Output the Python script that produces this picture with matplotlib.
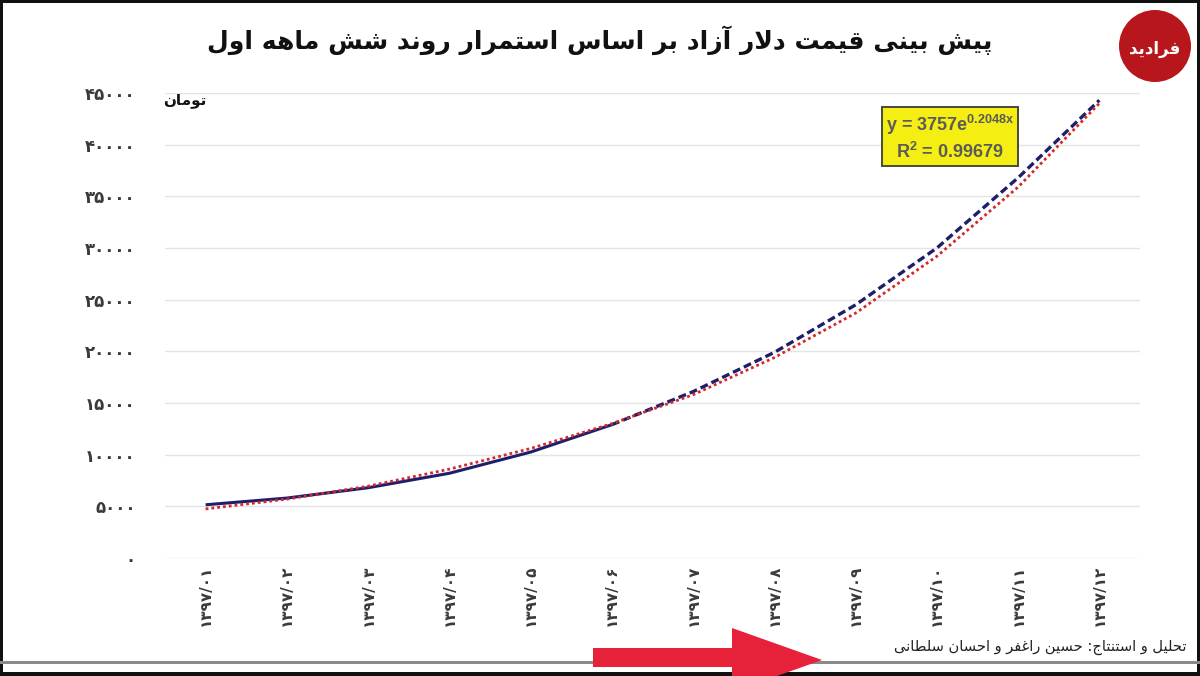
"""Dollar free-market price forecast chart (Persian labels, hand-shaped Arabic script)."""
import matplotlib
matplotlib.use("Agg")
import matplotlib.pyplot as plt
import matplotlib.patches as mpatches

W, H = 1200, 676

plt.rcParams.update({
    "font.family": ["DejaVu Sans"],
    "font.sans-serif": ["Liberation Sans", "DejaVu Sans"],
    "mathtext.fontset": "custom",
    "mathtext.rm": "Liberation Sans:bold",
    "mathtext.bf": "Liberation Sans:bold",
    "mathtext.it": "Liberation Sans:bold",
    "axes.spines.top": False,
    "axes.spines.right": False,
    "axes.spines.left": False,
    "axes.spines.bottom": False,
})

# --- data ------------------------------------------------------------------
month_labels = ["۱۳۹۷/۰۱", "۱۳۹۷/۰۲", "۱۳۹۷/۰۳", "۱۳۹۷/۰۴", "۱۳۹۷/۰۵", "۱۳۹۷/۰۶",
                "۱۳۹۷/۰۷", "۱۳۹۷/۰۸", "۱۳۹۷/۰۹", "۱۳۹۷/۱۰", "۱۳۹۷/۱۱", "۱۳۹۷/۱۲"]
actual_months = [1, 2, 3, 4, 5, 6]
actual = [5150, 5800, 6800, 8200, 10250, 12900]
forecast_months = [6, 7, 8, 9, 10, 11, 12]
forecast = [12900, 16100, 19900, 24500, 30000, 36800, 44300]
trend = [4750, 5700, 6950, 8600, 10600, 13000, 15800, 19400, 23700, 29200, 35900, 44000]
y_ticks = [0, 5000, 10000, 15000, 20000, 25000, 30000, 35000, 40000, 45000]
y_tick_labels = ["۰", "۵۰۰۰", "۱۰۰۰۰", "۱۵۰۰۰", "۲۰۰۰۰", "۲۵۰۰۰", "۳۰۰۰۰",
                 "۳۵۰۰۰", "۴۰۰۰۰", "۴۵۰۰۰"]

TITLE = "پیش بینی قیمت دلار آزاد بر اساس استمرار روند شش ماهه اول"
UNIT = "تومان"
CREDIT = "تحلیل و استنتاج: حسین راغفر و احسان سلطانی"
LOGO = "فرادید"

# --- minimal Arabic-script shaper (matplotlib has no RTL shaping) ----------
DUAL = {  # isolated, final, initial, medial
    "ب": "\uFE8F\uFE90\uFE91\uFE92", "پ": "\uFB56\uFB57\uFB58\uFB59",
    "ت": "\uFE95\uFE96\uFE97\uFE98", "ج": "\uFE9D\uFE9E\uFE9F\uFEA0",
    "ح": "\uFEA1\uFEA2\uFEA3\uFEA4", "س": "\uFEB1\uFEB2\uFEB3\uFEB4",
    "ش": "\uFEB5\uFEB6\uFEB7\uFEB8", "ط": "\uFEC1\uFEC2\uFEC3\uFEC4",
    "غ": "\uFECD\uFECE\uFECF\uFED0", "ف": "\uFED1\uFED2\uFED3\uFED4",
    "ق": "\uFED5\uFED6\uFED7\uFED8", "ل": "\uFEDD\uFEDE\uFEDF\uFEE0",
    "م": "\uFEE1\uFEE2\uFEE3\uFEE4", "ن": "\uFEE5\uFEE6\uFEE7\uFEE8",
    "ه": "\uFEE9\uFEEA\uFEEB\uFEEC", "ی": "\uFBFC\uFBFD\uFBFE\uFBFF",
}
RIGHT = {  # isolated, final
    "ا": "\uFE8D\uFE8E", "آ": "\uFE81\uFE82", "د": "\uFEA9\uFEAA",
    "ر": "\uFEAD\uFEAE", "ز": "\uFEAF\uFEB0", "و": "\uFEED\uFEEE",
}
LAM_ALEF = {"ا": "\uFEFB\uFEFC", "آ": "\uFEF5\uFEF6"}


def shape(text):
    chars = list(text)
    out = []
    i = 0
    while i < len(chars):
        c = chars[i]
        prev = chars[i - 1] if i > 0 else None
        nxt = chars[i + 1] if i + 1 < len(chars) else None
        joined_prev = prev in DUAL and (c in DUAL or c in RIGHT)
        if c == "ل" and nxt in LAM_ALEF:
            out.append(LAM_ALEF[nxt][1 if joined_prev else 0])
            i += 2
            continue
        if c in DUAL:
            joined_next = nxt in DUAL or nxt in RIGHT
            idx = {(False, False): 0, (True, False): 1,
                   (False, True): 2, (True, True): 3}[(joined_prev, joined_next)]
            out.append(DUAL[c][idx])
        elif c in RIGHT:
            out.append(RIGHT[c][1 if joined_prev else 0])
        else:
            out.append(c)
        i += 1
    return "".join(reversed(out))


def fx(x):
    return x / W


def fy(y):
    return 1 - y / H


# --- figure -----------------------------------------------------------------
fig = plt.figure(figsize=(W / 100, H / 100), dpi=100)
fig.patch.set_facecolor("white")
ax = fig.add_axes([fx(165), fy(558), fx(1140) - fx(165), fy(93) - fy(558)])

ax.set_xlim(0.5, 12.5)
ax.set_ylim(0, 45000)
ax.set_yticks(y_ticks)
ax.set_yticklabels(y_tick_labels, fontsize=12, fontweight="bold", color="#3a3a3a")
ax.set_xticks(range(1, 13))
ax.set_xticklabels(month_labels, rotation=90, fontsize=11, fontweight="bold",
                   color="#3a3a3a", va="top", ha="center")
ax.tick_params(axis="y", length=0, pad=21)
ax.tick_params(axis="x", length=0, pad=5)
ax.yaxis.grid(True, color="#e4e4e4", linewidth=1)
ax.set_axisbelow(True)

navy = "#1d1f6a"
red = "#d3272c"
ax.plot(actual_months, actual, color=navy, lw=2.2, solid_capstyle="butt", zorder=3)
ax.plot(forecast_months, forecast, color=navy, lw=2.4, dashes=(2.4, 1.2), zorder=3)
ax.plot(range(1, 13), trend, color=red, lw=2.0, linestyle=(0, (1, 1.1)), zorder=4)

# trend equation box
ax.text(0.805, 0.905, "y = 3757e$^{0.2048x}$\nR$^{2}$ = 0.99679",
        transform=ax.transAxes, ha="center", va="center", family="Liberation Sans",
        fontsize=13, fontweight="bold", color="#5b5b5b", linespacing=1.3,
        bbox=dict(boxstyle="square,pad=0.22", facecolor="#f4ee12", edgecolor="#4a4a3a",
                  linewidth=1.4))

# unit label
fig.text(fx(163), fy(101), shape(UNIT), ha="left", va="center", fontsize=11,
         fontweight="bold", color="#111")

# title
fig.text(fx(600), fy(40), shape(TITLE), ha="center", va="center", fontsize=18,
         fontweight="bold", color="#111")

# credit line
fig.text(fx(1187), fy(647), shape(CREDIT), ha="right", va="center", fontsize=10.5,
         color="#222")

# logo
fig.patches.append(mpatches.Ellipse((fx(1155), fy(46)), 72 / W, 72 / H,
                                    transform=fig.transFigure, facecolor="#b7171c",
                                    edgecolor="none"))
fig.text(fx(1155), fy(49), shape(LOGO), ha="center", va="center", fontsize=12,
         fontweight="bold", color="white")

# frame: black top/left/right edges, grey rule and black band at the bottom
fig.patches.append(mpatches.Rectangle((0, fy(3)), 1, 3 / H, transform=fig.transFigure,
                                      facecolor="#111", edgecolor="none"))
fig.patches.append(mpatches.Rectangle((0, 0), 3 / W, 1, transform=fig.transFigure,
                                      facecolor="#111", edgecolor="none"))
fig.patches.append(mpatches.Rectangle((1 - 3 / W, 0), 3 / W, 1, transform=fig.transFigure,
                                      facecolor="#111", edgecolor="none"))
fig.patches.append(mpatches.Rectangle((0, fy(664)), 1, 3 / H, transform=fig.transFigure,
                                      facecolor="#8a8a8a", edgecolor="none"))
fig.patches.append(mpatches.Rectangle((0, 0), 1, 4 / H, transform=fig.transFigure,
                                      facecolor="#111", edgecolor="none"))

# red arrow at the bottom
arrow_pts = [(593, 648), (732, 648), (732, 628), (822, 660), (732, 692),
             (732, 667), (593, 667)]
fig.patches.append(mpatches.Polygon([(fx(x), fy(y)) for x, y in arrow_pts], closed=True,
                                    transform=fig.transFigure, facecolor="#e8213b",
                                    edgecolor="none", zorder=10))

fig.savefig("out.png", dpi=100)
